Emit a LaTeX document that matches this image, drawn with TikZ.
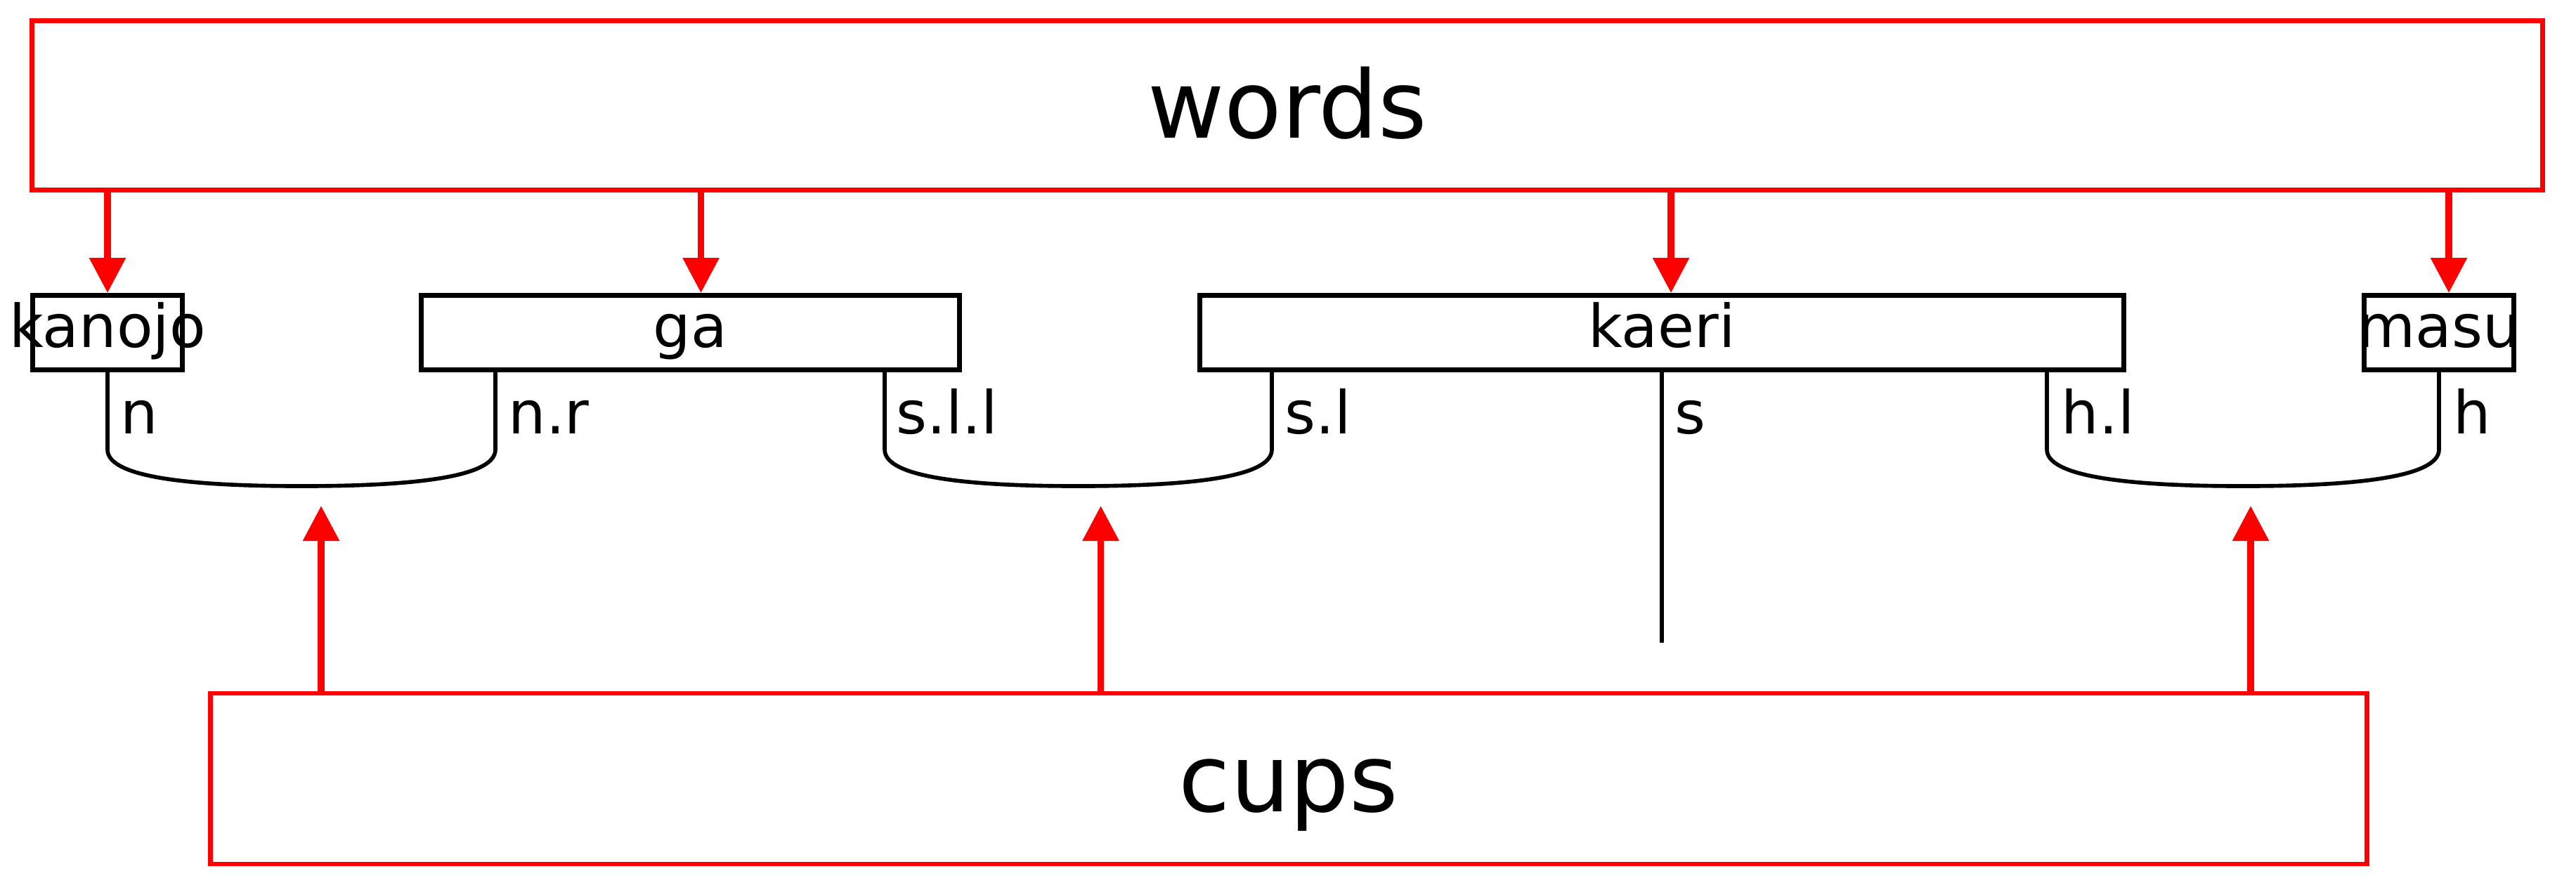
\documentclass[tikz,border=0pt]{standalone}
\usepackage{fontspec}
\setmainfont{DejaVu Sans}
\usetikzlibrary{positioning,arrows.meta,calc}

\begin{document}
\begin{tikzpicture}[>={Triangle[length=5mm,width=5mm]},
  frame/.style={draw=red,line width=1.8pt,inner sep=0pt,text height=9.3mm,text depth=0pt,font=\fontsize{38}{40}\selectfont},
  wordbox/.style={draw,line width=2pt,inner sep=0pt,minimum height=1.06cm,text height=4.2mm,text depth=0pt,font=\fontsize{24}{27}\selectfont},
  wire/.style={line width=1.6pt},
  feed/.style={->,red,line width=2.6pt},
  port/.style={anchor=base west,inner sep=0pt,font=\fontsize{24}{27}\selectfont}]
\useasboundingbox (0,0) rectangle (36.66,-12.66);

% the two red frames
\node[frame,minimum width=35.73cm,minimum height=2.41cm] (words) at (18.32,-1.50) {words};
\node[frame,minimum width=30.69cm,minimum height=2.43cm] (cups) at (18.34,-11.085) {cups};

% word boxes
\node[wordbox,minimum width=2.13cm] (kanojo) at (1.53,-4.735) {\makebox[0pt]{kanojo}};
\node[wordbox,minimum width=7.66cm] (ga) at (9.825,-4.735) {\makebox[0pt]{ga}};
\node[wordbox,minimum width=13.15cm] (kaeri) at (23.65,-4.735) {\makebox[0pt]{kaeri}};
\node[wordbox,minimum width=2.13cm] (masu) at (34.71,-4.735) {\makebox[0pt]{masu}};

% ports
\coordinate (pn) at (kanojo.south);
\coordinate (pnr) at ([xshift=1.09cm]ga.south west);
\coordinate (psll) at ([xshift=-1.10cm]ga.south east);
\coordinate (psl) at ([xshift=1.06cm]kaeri.south west);
\coordinate (ps) at (kaeri.south);
\coordinate (phl) at ([xshift=-1.13cm]kaeri.south east);
\coordinate (ph) at (masu.south);

\node[port] (ln) at ($(pn)+(0.18,-0.87)$) {n};
\node[port] (lnr) at ($(pnr)+(0.18,-0.87)$) {n.r};
\node[port] (lsll) at ($(psll)+(0.16,-0.87)$) {s.l.l};
\node[port] (lsl) at ($(psl)+(0.18,-0.87)$) {s.l};
\node[port] (ls) at ($(ps)+(0.18,-0.87)$) {s};
\node[port] (lhl) at ($(phl)+(0.20,-0.87)$) {h.l};
\node[port] (lh) at ($(ph)+(0.20,-0.87)$) {h};

% cups
\coordinate (cA) at ($(pn)!0.5!(pnr)+(0,-1.62)$);
\coordinate (cB) at ($(psll)!0.5!(psl)+(0,-1.62)$);
\coordinate (cC) at ($(phl)!0.5!(ph)+(0,-1.62)$);
\draw[wire] (pn) -- ++(0,-1.10) .. controls +(0,-0.35) and +(-1.84,0) .. (cA)
  .. controls +(1.84,0) and +(0,-0.35) .. ($(pnr)+(0,-1.10)$) -- (pnr);
\draw[wire] (psll) -- ++(0,-1.10) .. controls +(0,-0.35) and +(-1.84,0) .. (cB)
  .. controls +(1.84,0) and +(0,-0.35) .. ($(psl)+(0,-1.10)$) -- (psl);
\draw[wire] (phl) -- ++(0,-1.10) .. controls +(0,-0.35) and +(-1.84,0) .. (cC)
  .. controls +(1.84,0) and +(0,-0.35) .. ($(ph)+(0,-1.10)$) -- (ph);
\coordinate (sout) at ($(ps)+(0,-3.85)$);
\draw[wire] (ps) -- (sout);

% words -> boxes
\foreach \b/\dx in {kanojo/0,ga/0.15,kaeri/0.13,masu/0.14}{
  \coordinate (t-\b) at ([xshift=\dx cm]\b.north);
  \draw[feed] (words.south -| t-\b) -- (t-\b);
}

% cups -> cup bottoms
\coordinate (uA) at ([xshift=0.28cm,yshift=-0.28cm]cA);
\coordinate (uB) at ([xshift=0.32cm,yshift=-0.28cm]cB);
\coordinate (uC) at ([xshift=0.11cm,yshift=-0.28cm]cC);
\foreach \u in {uA,uB,uC}
  \draw[feed] (cups.north -| \u) -- (\u);
\end{tikzpicture}
\end{document}
